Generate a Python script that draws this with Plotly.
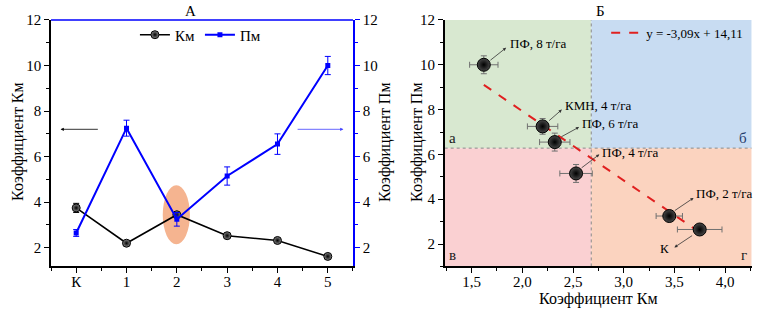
import plotly.graph_objects as go

# ---------------- data ----------------
categories = ["К", "1", "2", "3", "4", "5"]
cat_pos = [0, 1, 2, 3, 4, 5]
km_values = [3.75, 2.20, 3.45, 2.53, 2.32, 1.62]
km_err = [0.20, 0.08, 0.10, 0.08, 0.08, 0.06]
pm_values = [2.65, 7.25, 3.25, 5.15, 6.55, 10.00]
pm_err = [0.15, 0.35, 0.30, 0.40, 0.45, 0.40]

# right panel (same treatments)
treat_labels = ["К", "КМН, 4 т/га", "ПФ, 2 т/га", "ПФ, 4 т/га", "ПФ, 6 т/га", "ПФ, 8 т/га"]
km_x_err = [0.22, 0.15, 0.13, 0.16, 0.15, 0.14]
pm_y_err = [0.15, 0.35, 0.20, 0.40, 0.40, 0.40]
slope, intercept = -3.09, 14.11
km_split, pm_split = 2.68, 6.28

FONT = "Liberation Serif, Times New Roman, DejaVu Serif, serif"
fig = go.Figure()

# ---------------- left panel ----------------
fig.add_trace(go.Scatter(
    x=cat_pos, y=km_values, mode="lines+markers", name="Км",
    line=dict(color="black", width=1.6),
    marker=dict(symbol="circle", size=8, color="#8a8a8a",
                gradient=dict(type="radial", color="black"),
                line=dict(color="black", width=1)),
    error_y=dict(type="data", array=km_err, color="black", thickness=1, width=3),
    xaxis="x", yaxis="y", legend="legend"))
fig.add_trace(go.Scatter(
    x=cat_pos, y=pm_values, mode="lines+markers", name="Пм",
    line=dict(color="#0000ff", width=2),
    marker=dict(symbol="square", size=5, color="#0000ff"),
    error_y=dict(type="data", array=pm_err, color="#0000ff", thickness=1, width=3),
    xaxis="x", yaxis="y2", legend="legend"))

# ---------------- right panel ----------------
xline = [min(km_values), max(km_values)]
fig.add_trace(go.Scatter(
    x=xline, y=[slope * v + intercept for v in xline], mode="lines",
    name="y = -3,09x + 14,11",
    line=dict(color="#e02020", width=2, dash="dash"),
    xaxis="x2", yaxis="y3", legend="legend2"))
fig.add_trace(go.Scatter(
    x=km_values, y=pm_values, mode="markers", showlegend=False,
    marker=dict(symbol="circle", size=13, color="#484848",
                gradient=dict(type="radial", color="black"),
                line=dict(color="black", width=1)),
    error_x=dict(type="data", array=km_x_err, color="#707070", thickness=1, width=3),
    error_y=dict(type="data", array=pm_y_err, color="#707070", thickness=1, width=3),
    xaxis="x2", yaxis="y3"))

dom_l = [0.0667, 0.4614]
dom_r = [0.5813, 0.9826]
dom_y = [0.146, 0.936]

axis_common = dict(showline=True, linecolor="black", linewidth=1.5, ticks="outside",
                   ticklen=5, tickwidth=1.2, tickcolor="black", showgrid=False,
                   zeroline=False, automargin=False,
                   tickfont=dict(family=FONT, size=15, color="black"))

fig.update_layout(
    width=765, height=312,
    margin=dict(l=0, r=0, t=0, b=0, autoexpand=False),
    paper_bgcolor="white", plot_bgcolor="white",
    font=dict(family=FONT, size=15, color="black"),
    separators=", ",
    xaxis=dict(axis_common, domain=dom_l, range=[-0.5, 5.5], tickmode="array",
               tickvals=cat_pos, ticktext=categories, anchor="y", ticklabelstandoff=-4,
               minor=dict(tickmode="linear", tick0=0.5, dtick=1, ticks="outside",
                          ticklen=3, tickcolor="black")),
    yaxis=dict(axis_common, domain=dom_y, range=[1.18, 12], dtick=2, anchor="x",
               minor=dict(dtick=1, ticks="outside", ticklen=3, tickcolor="black")),
    yaxis2=dict(axis_common, domain=dom_y, range=[1.18, 12], dtick=2, overlaying="y",
                side="right", anchor="x", linecolor="#0000ff", tickcolor="#0000ff",
                minor=dict(dtick=1, ticks="outside", ticklen=3, tickcolor="#0000ff")),
    xaxis2=dict(axis_common, domain=dom_r, range=[1.234, 4.263], dtick=0.5, tick0=1.5,
                tickformat=".1f", anchor="y3", ticklabelstandoff=-4,
                minor=dict(dtick=0.25, ticks="outside", ticklen=3, tickcolor="black")),
    yaxis3=dict(axis_common, domain=dom_y, range=[1.0, 12], dtick=2, anchor="x2",
                minor=dict(dtick=1, ticks="outside", ticklen=3, tickcolor="black")),
    legend=dict(orientation="h", x=0.262, y=0.888, xanchor="center", yanchor="middle",
                bgcolor="rgba(0,0,0,0)", font=dict(family=FONT, size=15),
                itemwidth=30, tracegroupgap=0),
    legend2=dict(x=0.978, y=0.895, xanchor="right", yanchor="middle",
                 bgcolor="rgba(0,0,0,0)", font=dict(family=FONT, size=13),
                 itemwidth=30),
)

shapes = []
# top blue border of left panel
shapes.append(dict(type="line", xref="paper", yref="paper", x0=dom_l[0], x1=dom_l[1],
                   y0=dom_y[1], y1=dom_y[1], line=dict(color="#0000ff", width=1.5)))
# orange ellipse
shapes.append(dict(type="circle", xref="x", yref="y", x0=1.72, x1=2.26, y0=2.15, y1=4.75,
                   fillcolor="#f4ac84", line=dict(width=0), layer="below", opacity=0.9))
# quadrants
quad = [
    (1.234, km_split, pm_split, 12, "#d8e8d0"),
    (km_split, 4.263, pm_split, 12, "#c8dcf2"),
    (1.234, km_split, 1.0, pm_split, "#fad0d2"),
    (km_split, 4.263, 1.0, pm_split, "#fbd3bf"),
]
for x0, x1, y0, y1, c in quad:
    shapes.append(dict(type="rect", xref="x2", yref="y3", x0=x0, x1=x1, y0=y0, y1=y1,
                       fillcolor=c, line=dict(width=0), layer="below"))
shapes.append(dict(type="line", xref="x2", yref="y3", x0=km_split, x1=km_split, y0=1.0, y1=12,
                   line=dict(color="#888888", width=1, dash="dot"), layer="below"))
shapes.append(dict(type="line", xref="x2", yref="y3", x0=1.234, x1=4.263, y0=pm_split, y1=pm_split,
                   line=dict(color="#888888", width=1, dash="dot"), layer="below"))
fig.update_layout(shapes=shapes)

ann = []
C = dict(xanchor="center", yanchor="middle", showarrow=False, xref="paper", yref="paper")
# titles
ann.append(dict(C, text="А", x=190 / 765, y=0.965, font=dict(family=FONT, size=15)))
ann.append(dict(C, text="Б", x=600 / 765, y=0.965, font=dict(family=FONT, size=15)))
# axis titles
ann.append(dict(C, text="Коэффициент Км", x=18 / 765, y=0.545, textangle=-90,
                font=dict(family=FONT, size=16)))
ann.append(dict(C, text="Коэффициент Пм", x=385 / 765, y=0.545, textangle=-90,
                font=dict(family=FONT, size=16)))
ann.append(dict(C, text="Коэффициент Пм", x=417 / 765, y=0.545, textangle=-90,
                font=dict(family=FONT, size=16)))
ann.append(dict(C, text="Коэффициент Км", x=598 / 765, y=1 - 299 / 312,
                font=dict(family=FONT, size=16)))
# left panel arrows
ann.append(dict(x=-0.31, y=7.2, ax=0.46, ay=7.2, xref="x", yref="y", axref="x", ayref="y",
                text="", showarrow=True, arrowhead=2, arrowsize=0.8, arrowwidth=0.8,
                arrowcolor="black"))
ann.append(dict(x=5.31, y=7.2, ax=4.37, ay=7.2, xref="x", yref="y", axref="x", ayref="y",
                text="", showarrow=True, arrowhead=2, arrowsize=0.8, arrowwidth=0.8,
                arrowcolor="#4040ff"))
# right panel labels with arrows: (tail x, tail y, head x, head y, text x, text y, anchor)
lab_geom = {
    "ПФ, 8 т/га": (1.67, 10.15, 1.84, 10.76, 1.86, 10.95, "left"),
    "КМН, 4 т/га": (2.25, 7.45, 2.39, 8.0, 2.40, 8.2, "left"),
    "ПФ, 6 т/га": (2.37, 6.75, 2.56, 7.22, 2.57, 7.4, "left"),
    "ПФ, 4 т/га": (2.57, 5.35, 2.76, 6.0, 2.77, 6.1, "left"),
    "ПФ, 2 т/га": (3.49, 3.45, 3.69, 4.06, 3.69, 4.25, "left"),
    "К": (3.69, 2.42, 3.50, 1.85, 3.47, 1.78, "right"),
}
for name in treat_labels:
    tx, ty, hx, hy, lx, ly, anc = lab_geom[name]
    ann.append(dict(x=hx, y=hy, ax=tx, ay=ty, xref="x2", yref="y3", axref="x2", ayref="y3",
                    text="", showarrow=True, arrowhead=2, arrowsize=0.8, arrowwidth=0.8,
                    arrowcolor="#333333"))
    ann.append(dict(x=lx, y=ly, xref="x2", yref="y3", text=name, showarrow=False,
                    xanchor=anc, yanchor="middle", font=dict(family=FONT, size=13)))
# quadrant letters
for txt, x, y, anc, col in [("а", 1.26, 6.75, "left", "#1a1a1a"), ("б", 4.24, 6.75, "right", "#1f3a6a"),
                            ("в", 1.26, 1.5, "left", "#1a1a1a"), ("г", 4.24, 1.5, "right", "#1a1a1a")]:
    ann.append(dict(text=txt, x=x, y=y, xref="x2", yref="y3", showarrow=False, xanchor=anc,
                    yanchor="middle", font=dict(family=FONT, size=15, color=col)))
fig.update_layout(annotations=ann)

fig.write_html("out.html", config={"displayModeBar": False},
               post_script="document.body.style.margin='0px';")
